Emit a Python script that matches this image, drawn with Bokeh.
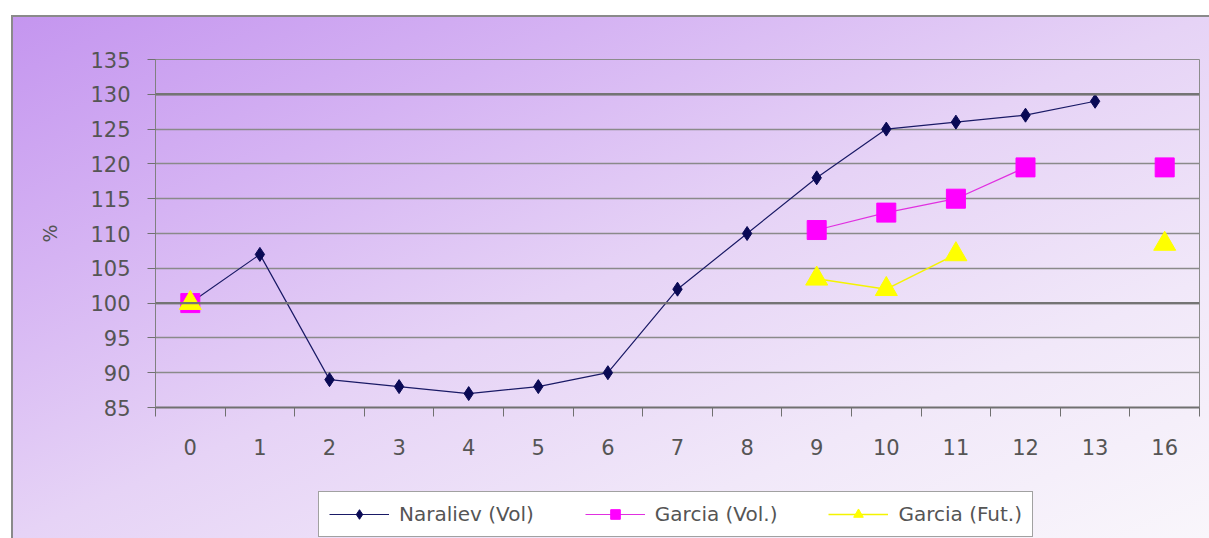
import math
from bokeh.plotting import figure
from bokeh.layouts import column
from bokeh.models import FixedTicker, Legend, LegendItem, Span, Range1d
from bokeh.embed import file_html
from bokeh.resources import INLINE

nan = float("nan")

# ---- data ----
categories = ["0", "1", "2", "3", "4", "5", "6", "7", "8", "9", "10", "11", "12", "13", "16"]
naraliev_vol = [100, 107, 89, 88, 87, 88, 90, 102, 110, 118, 125, 126, 127, 129, nan]
garcia_vol = [100, nan, nan, nan, nan, nan, nan, nan, nan, 110.5, 113, 115, 119.5, nan, 119.5]
garcia_fut = [100, nan, nan, nan, nan, nan, nan, nan, nan, 103.5, 102, 107, nan, nan, 108.5]
series_labels = ["Naraliev (Vol)", "Garcia (Vol.)", "Garcia (Fut.)"]
y_ticks = [85, 90, 95, 100, 105, 110, 115, 120, 125, 130, 135]
emphasized_lines = [100, 130]
y_label = "%"

# category slots on a numeric scale (1..N), boundaries between them for tick marks
positions = list(range(1, len(categories) + 1))
boundaries = [p_ - 0.5 for p_ in positions] + [positions[-1] + 0.5]

FONT = "DejaVu Sans"
TXT = "#555555"
W = 1209
H_MAIN = 470
H_LEG = 538 - H_MAIN

STYLES = [
    dict(line_color="#1a1a66", line_width=1.2, marker="diamond", size=14, fill="#0a0a55"),
    dict(line_color="#e030e0", line_width=1.2, marker="square", size=19, fill="#ff00ff"),
    dict(line_color="#f4f400", line_width=1.5, marker="triangle", size=22, fill="#ffff00"),
]


def draw_series(fig, xs, ys, st):
    ln = fig.line(xs, ys, line_color=st["line_color"], line_width=st["line_width"])
    sc = fig.scatter(xs, ys, marker=st["marker"], size=st["size"],
                     fill_color=st["fill"], line_color=st["fill"])
    return ln, sc


p = figure(
    width=W, height=H_MAIN,
    x_range=Range1d(0.5, len(categories) + 0.5),
    y_range=Range1d(y_ticks[0], y_ticks[-1]),
    output_backend="svg", toolbar_location=None,
    min_border_left=155, min_border_right=10, min_border_top=59, min_border_bottom=H_MAIN - 407,
    border_fill_color=None, background_fill_color=None,
    outline_line_color="#8c8c8c", outline_line_width=1,
)

# grid
p.xgrid.visible = False
p.ygrid.ticker = FixedTicker(ticks=y_ticks)
p.ygrid.grid_line_color = "#8a8a8a"
p.ygrid.grid_line_width = 1.3
for v in emphasized_lines:
    p.add_layout(Span(location=v, dimension="width", line_color="#747474", line_width=2.4))

# y axis
ya = p.yaxis[0]
ya.ticker = FixedTicker(ticks=y_ticks)
ya.major_tick_out = 8
ya.major_tick_in = 0
ya.major_tick_line_color = "#707070"
ya.axis_line_color = "#808080"
ya.major_label_text_font = FONT
ya.major_label_text_font_size = "21px"
ya.major_label_text_color = TXT
ya.major_label_standoff = 17
ya.axis_label = y_label
ya.axis_label_text_font = FONT
ya.axis_label_text_font_style = "normal"
ya.axis_label_text_font_size = "19px"
ya.axis_label_text_color = TXT
ya.axis_label_standoff = 26

# x axis: labels at category centres, tick marks at category boundaries
xa = p.xaxis[0]
xa.ticker = FixedTicker(ticks=positions, minor_ticks=boundaries)
xa.major_label_overrides = {pos: cat for pos, cat in zip(positions, categories)}
xa.major_tick_out = 0
xa.major_tick_in = 0
xa.major_tick_line_color = None
xa.minor_tick_out = 9
xa.minor_tick_in = 0
xa.minor_tick_line_color = "#707070"
xa.axis_line_color = "#707070"
xa.axis_line_width = 2
xa.major_label_text_font = FONT
xa.major_label_text_font_size = "21px"
xa.major_label_text_color = TXT
xa.major_label_standoff = 22

# series
series = [naraliev_vol, garcia_vol, garcia_fut]
for ys, st in zip(series, STYLES):
    draw_series(p, positions, ys, st)

# legend strip (separate figure below the chart, sharing the gradient background);
# its renderers use the same data but lie outside the strip's visible range
pl = figure(
    width=W, height=H_LEG, x_range=Range1d(-3, -2), y_range=Range1d(0, 1),
    x_axis_type=None, y_axis_type=None,
    output_backend="svg", toolbar_location=None,
    min_border=0, border_fill_color=None, background_fill_color=None,
    outline_line_color=None,
)
pl.grid.visible = False
items = []
for label, ys, st in zip(series_labels, series, STYLES):
    ln, sc = draw_series(pl, positions, ys, st)
    items.append(LegendItem(label=label, renderers=[ln, sc]))

legend = Legend(
    items=items,
    orientation="horizontal",
    location=(163, 1),
    label_text_font=FONT, label_text_font_size="20px", label_text_color=TXT,
    glyph_width=60, glyph_height=24, label_height=24,
    label_standoff=10, spacing=51, padding=10, margin=0,
    border_line_color="#444444", border_line_width=1,
    background_fill_color="white", background_fill_alpha=1,
)
pl.add_layout(legend)

layout = column(p, pl, spacing=0)
# gradient panel background with grey top/left border (CSS on the layout element)
layout.styles = {
    "background-color": "white",
    "background-image": (
        "linear-gradient(#8a8a8a,#8a8a8a), "
        "linear-gradient(#8a8a8a,#8a8a8a), "
        "linear-gradient(to bottom right, #c495ef 0%, #d5b3f3 25%, #e6d3f6 50%, #f1e8f9 75%, #f9f6fb 100%)"
    ),
    "background-size": "2px calc(100% - 15px), calc(100% - 11px) 2px, calc(100% - 11px) calc(100% - 15px)",
    "background-position": "11px 15px, 11px 15px, 11px 15px",
    "background-repeat": "no-repeat",
}

open("out.html", "w").write(file_html(layout, INLINE))
